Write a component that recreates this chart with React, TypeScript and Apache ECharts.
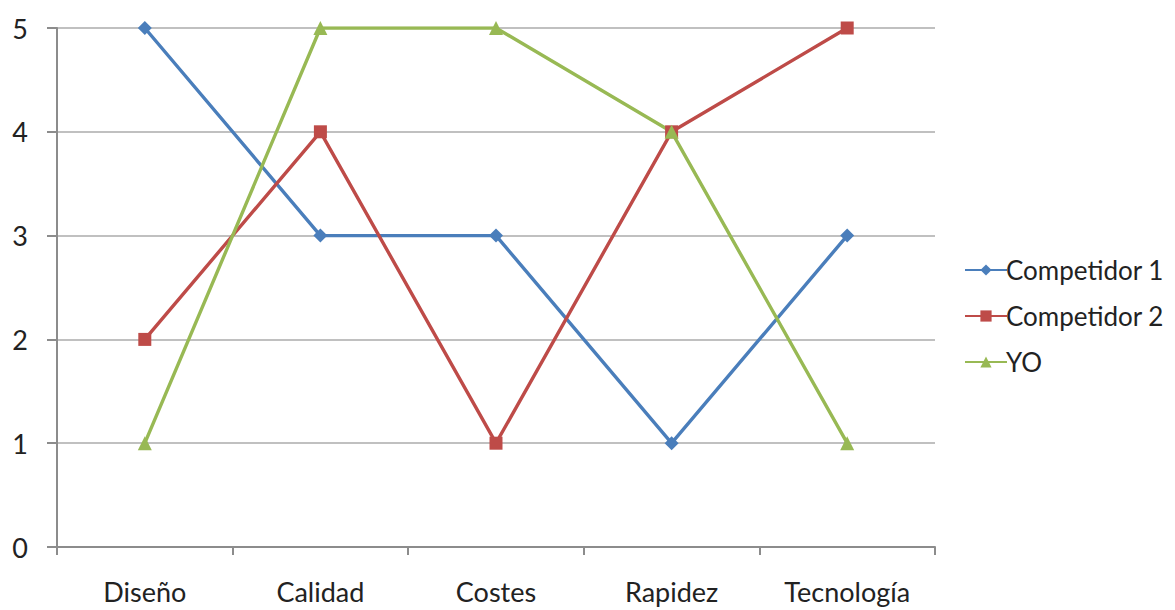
import React, { useEffect, useRef } from "react";
import * as echarts from "echarts";

const categories = ["Diseño", "Calidad", "Costes", "Rapidez", "Tecnología"];
const competidor1 = [5, 3, 3, 1, 3];
const competidor2 = [2, 4, 1, 4, 5];
const yo = [1, 5, 5, 4, 1];

const FONT = "Lato, 'Open Sans', sans-serif";

export default function App() {
  const ref = useRef<HTMLDivElement>(null);
  useEffect(() => {
    if (!ref.current) return;
    const chart = echarts.init(ref.current, null, { renderer: "svg" });
    const mk = (name: string, data: number[], color: string, symbol: string, size: number) => ({
      name,
      type: "line",
      data,
      symbol,
      symbolSize: size,
      lineStyle: { color, width: 3.4 },
      itemStyle: { color },
      emphasis: { disabled: true },
    });
    chart.setOption({
      animation: false,
      backgroundColor: "#fff",
      textStyle: { fontFamily: FONT },
      grid: { left: 57, right: 240, top: 28, bottom: 63, containLabel: false },
      legend: {
        orient: "vertical",
        left: 959,
        top: 251,
        itemWidth: 42,
        itemHeight: 14,
        itemGap: 18,
        textStyle: { fontSize: 26, lineHeight: 28, color: "#222", fontFamily: FONT, padding: [0, 0, 0, -6] },
        data: ["Competidor 1", "Competidor 2", "YO"],
      },
      xAxis: {
        type: "category",
        data: categories,
        boundaryGap: true,
        axisLine: { show: true, lineStyle: { color: "#8c8c8c", width: 2 } },
        axisTick: { show: true, length: 8, lineStyle: { color: "#8c8c8c", width: 2 } },
        axisLabel: { fontSize: 27, color: "#222", margin: 31, fontFamily: FONT },
        splitLine: { show: false },
      },
      yAxis: {
        type: "value",
        min: 0,
        max: 5,
        interval: 1,
        axisLine: { show: true, lineStyle: { color: "#8c8c8c", width: 2 } },
        axisTick: { show: true, length: 10, lineStyle: { color: "#8c8c8c", width: 2 } },
        axisLabel: { fontSize: 27, color: "#222", margin: 29, fontFamily: FONT },
        splitLine: { show: true, lineStyle: { color: "#c0c0c0", width: 2 } },
      },
      series: [
        mk("Competidor 1", competidor1, "#4A7EBB", "diamond", 14),
        mk("Competidor 2", competidor2, "#BE4B48", "rect", 13),
        mk("YO", yo, "#98B954", "triangle", 14),
      ],
    });
    return () => chart.dispose();
  }, []);
  return <div ref={ref} style={{ width: 1175, height: 610, position: "absolute", left: 0, top: 0 }} />;
}
